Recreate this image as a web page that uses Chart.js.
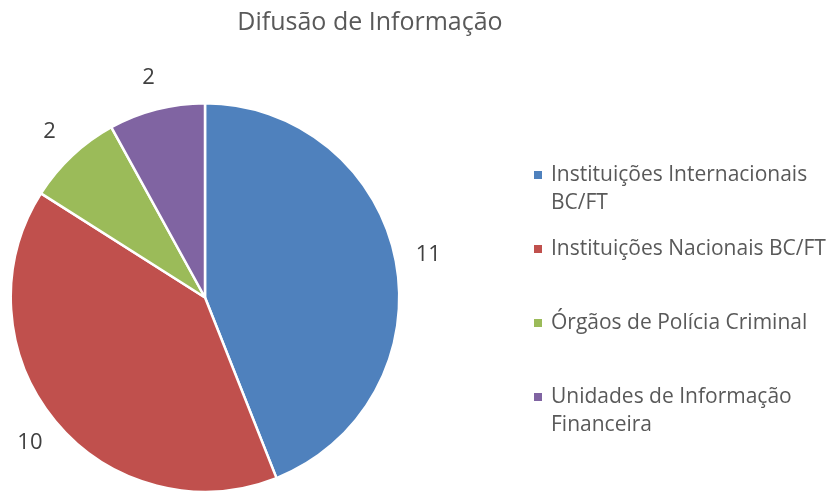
<!DOCTYPE html>
<html>
<head>
<meta charset="utf-8">
<script src="https://cdn.jsdelivr.net/npm/chart.js@4"></script>
<style>
  body { margin: 0; background: #fff; }
  canvas { display: block; }
</style>
</head>
<body>
<canvas id="myChart" width="826" height="493"></canvas>
<script>
const chartTitle = "Difusão de Informação";
const categories = [
  "Instituições Internacionais BC/FT",
  "Instituições Nacionais BC/FT",
  "Órgãos de Polícia Criminal",
  "Unidades de Informação Financeira",
];
// legend text as it wraps in the picture
const legendLines = [
  ["Instituições Internacionais", "BC/FT"],
  ["Instituições Nacionais BC/FT"],
  ["Órgãos de Polícia Criminal"],
  ["Unidades de Informação", "Financeira"],
];
const values = [11, 10, 2, 2];
const colors = ["#4F81BD", "#C0504D", "#9BBB59", "#8064A2"];

const fontFamily = "'Open Sans', 'Noto Sans', sans-serif";
const ctx = document.getElementById("myChart");

// title, value labels and legend drawn on top of the pie
const extras = {
  id: "extras",
  afterDraw(chart) {
    const c = chart.ctx;
    c.save();

    c.fillStyle = "#595959";
    c.font = "25px " + fontFamily;
    c.textAlign = "center";
    c.textBaseline = "alphabetic";
    c.fillText(chartTitle, 370, 30);

    // value labels outside each slice
    const arcs = chart.getDatasetMeta(0).data;
    c.fillStyle = "#404040";
    c.font = "22px " + fontFamily;
    c.textBaseline = "middle";
    arcs.forEach((arc, i) => {
      const mid = (arc.startAngle + arc.endAngle) / 2;
      const r = arc.outerRadius + 33;
      c.fillText(String(values[i]), arc.x + Math.cos(mid) * r, arc.y + Math.sin(mid) * r);
    });

    // legend
    const rowY = [175, 249, 323, 397];
    c.font = "21px " + fontFamily;
    c.textAlign = "left";
    legendLines.forEach((lines, i) => {
      c.fillStyle = colors[i];
      c.fillRect(534, rowY[i] - 4, 8, 8);
      c.fillStyle = "#595959";
      lines.forEach((t, j) => c.fillText(t, 551, rowY[i] + j * 28));
    });

    c.restore();
  },
};

new Chart(ctx, {
  type: "pie",
  data: {
    labels: categories,
    datasets: [
      {
        data: values,
        backgroundColor: colors,
        borderColor: "#ffffff",
        borderWidth: 2.5,
      },
    ],
  },
  options: {
    responsive: false,
    animation: false,
    layout: {
      padding: { left: 8, top: 102, right: 424, bottom: -3 },
    },
    plugins: {
      legend: { display: false },
      title: { display: false },
      tooltip: { enabled: false },
    },
  },
  plugins: [extras],
});
</script>
</body>
</html>
